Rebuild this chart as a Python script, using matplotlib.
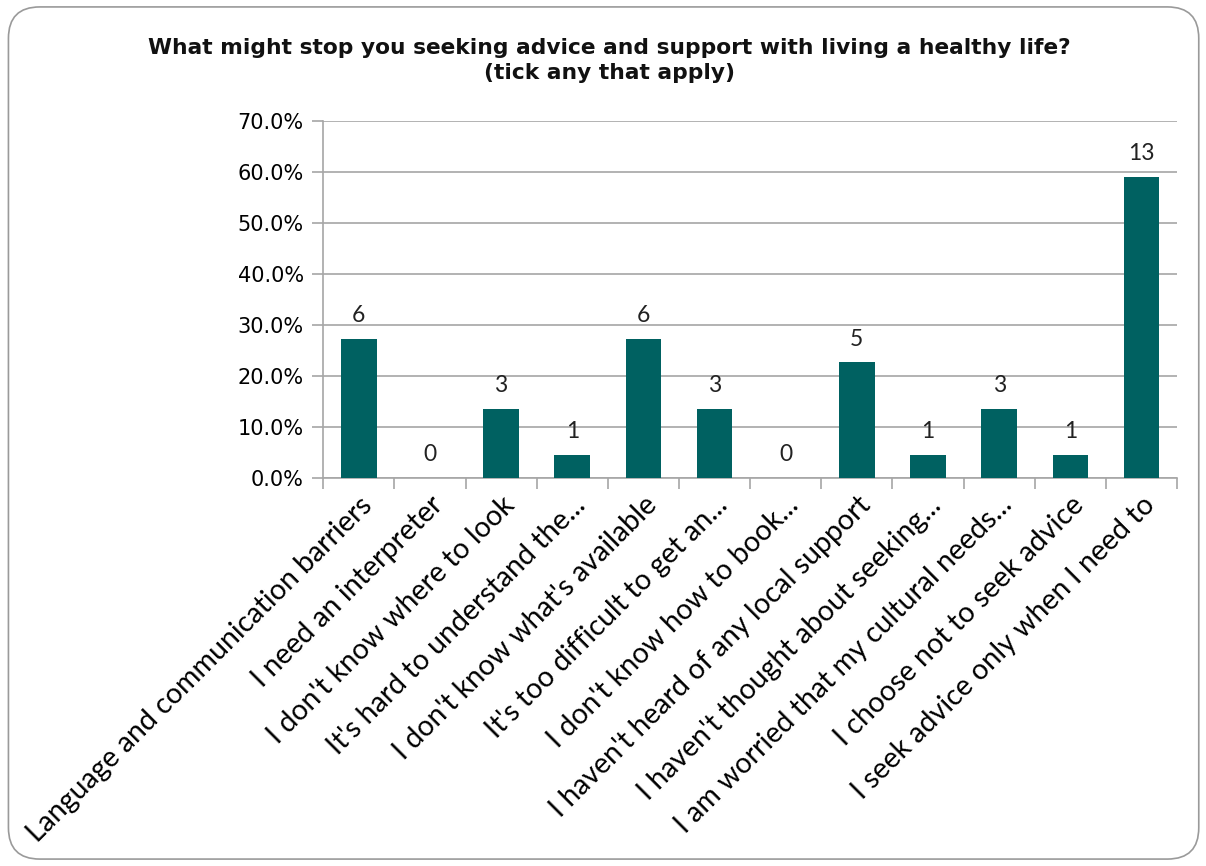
import numpy as np
import matplotlib
matplotlib.use("Agg")
import matplotlib.pyplot as plt
from matplotlib.patches import FancyBboxPatch
from matplotlib.ticker import FuncFormatter

# dati del grafico
categories = [
    "Language and communication barriers",
    "I need an interpreter",
    "I don't know where to look",
    "It's hard to understand the...",
    "I don't know what's available",
    "It's too difficult to get an...",
    "I don't know how to book...",
    "I haven't heard of any local support",
    "I haven't thought about seeking...",
    "I am worried that my cultural needs...",
    "I choose not to seek advice",
    "I seek advice only when I need to",
]
counts = [6, 0, 3, 1, 6, 3, 0, 5, 1, 3, 1, 13]
respondents = 22
percents = [c / respondents * 100 for c in counts]
yticks = [0, 10, 20, 30, 40, 50, 60, 70]

bar_color = "#006161"
grid_color = "#a6a6a6"

fig = plt.figure(figsize=(12.06, 8.66), dpi=100)

# bordo arrotondato
border = FancyBboxPatch((0.007, 0.008), 0.987, 0.984,
                        boxstyle="round,pad=0,rounding_size=0.026",
                        transform=fig.transFigure, facecolor="white",
                        edgecolor="#9a9a9a", linewidth=1.2, zorder=-1,
                        mutation_aspect=1206 / 866)
fig.patches.append(border)

ax = fig.add_axes([0.268, 0.448, 0.708, 0.412])
ax.set_facecolor("none")

x = np.arange(len(categories))
ax.bar(x, percents, width=0.5, color=bar_color, zorder=3)

# etichette con i conteggi
for xi, p, c in zip(x, percents, counts):
    ax.annotate(str(c), (xi, p), xytext=(0, 12), textcoords="offset points",
                ha="center", va="baseline", fontsize=16.5, family="Lato",
                color="#222222")

ax.set_xlim(-0.5, len(categories) - 0.5)
ax.set_ylim(0, 70)
ax.set_yticks(yticks)
ax.yaxis.set_major_formatter(FuncFormatter(lambda v, _: f"{v:.1f}%"))
ax.yaxis.grid(True, color=grid_color, linewidth=1.2, zorder=0)

ax.set_xticks(x)
ax.set_xticklabels(categories, rotation=45, ha="right",
                   rotation_mode="anchor", fontsize=20.5, family="Lato")
ax.set_xticks(np.arange(len(categories) + 1) - 0.5, minor=True)
ax.tick_params(axis="x", which="major", length=0, pad=10)
ax.tick_params(axis="x", which="minor", length=8, color=grid_color, width=1.2)
ax.tick_params(axis="y", length=8, color=grid_color, width=1.2,
               labelsize=15, pad=6)

for s in ["top", "right"]:
    ax.spines[s].set_visible(False)
for s in ["left", "bottom"]:
    ax.spines[s].set_color(grid_color)
    ax.spines[s].set_linewidth(1.2)

fig.text(0.505, 0.93,
         "What might stop you seeking advice and support with living a healthy life?\n(tick any that apply)",
         ha="center", va="center", fontsize=15.7, fontweight="bold",
         linespacing=1.3, color="#111111")

fig.savefig("out.png", dpi=100)
